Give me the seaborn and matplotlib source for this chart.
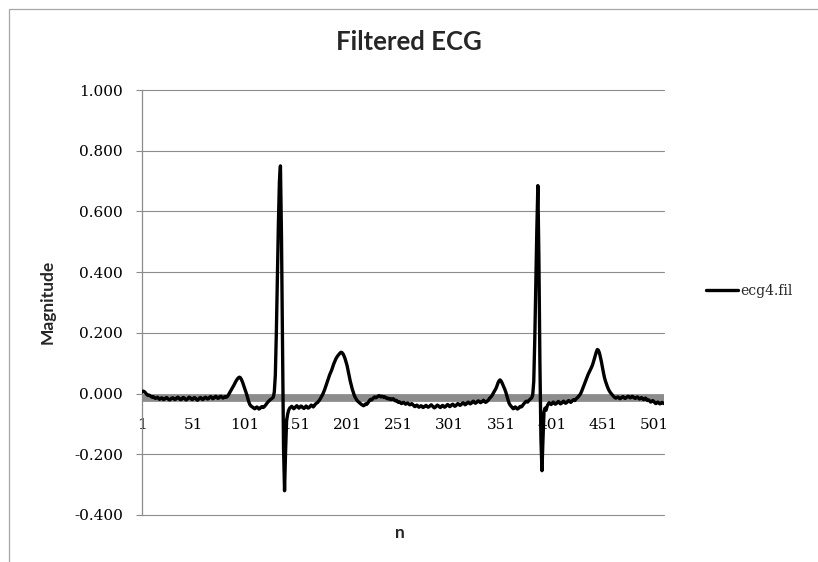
import matplotlib
matplotlib.use("Agg")
import matplotlib.pyplot as plt
import pandas as pd
import seaborn as sns
from matplotlib.patches import Rectangle

# ---- chart text -------------------------------------------------------------
title_text = "Filtered ECG"
series_name = "ecg4.fil"
x_title = "n"
y_title = "Magnitude"

# ---- tick positions / labels ------------------------------------------------
x_tick_values = [1, 51, 101, 151, 201, 251, 301, 351, 401, 451, 501]
y_tick_values = [-0.4, -0.2, 0.0, 0.2, 0.4, 0.6, 0.8, 1.0]
y_tick_labels = ["-0.400", "-0.200", "0.000", "0.200", "0.400", "0.600", "0.800", "1.000"]

# ---- filtered ECG samples (n = 1 .. 510) ------------------------------------
ecg4_fil = [
    # 1-50
    0.005, 0.008, 0.007, 0.004, 0.000, -0.004, -0.006, -0.005, -0.008, -0.010,
    -0.012, -0.010, -0.013, -0.016, -0.014, -0.012, -0.015, -0.019, -0.017, -0.014,
    -0.016, -0.020, -0.018, -0.015, -0.013, -0.016, -0.019, -0.021, -0.018, -0.015,
    -0.014, -0.017, -0.020, -0.018, -0.014, -0.012, -0.015, -0.019, -0.020, -0.017,
    -0.013, -0.014, -0.018, -0.021, -0.019, -0.015, -0.012, -0.014, -0.018, -0.020,
    # 51-100
    -0.017, -0.013, -0.015, -0.019, -0.022, -0.019, -0.015, -0.013, -0.016, -0.020,
    -0.018, -0.014, -0.012, -0.015, -0.018, -0.016, -0.012, -0.010, -0.013, -0.017,
    -0.015, -0.011, -0.009, -0.012, -0.016, -0.014, -0.010, -0.009, -0.012, -0.015,
    -0.012, -0.010, -0.012, -0.011, -0.006, 0.000, 0.006, 0.012, 0.018, 0.024,
    0.030, 0.037, 0.043, 0.048, 0.052, 0.054, 0.052, 0.046, 0.038, 0.028,
    # 101-150
    0.018, 0.008, -0.002, -0.014, -0.026, -0.035, -0.040, -0.043, -0.045, -0.048,
    -0.050, -0.047, -0.044, -0.047, -0.051, -0.049, -0.045, -0.043, -0.046, -0.044,
    -0.040, -0.036, -0.031, -0.027, -0.024, -0.020, -0.018, -0.015, -0.012, 0.005,
    0.060, 0.200, 0.380, 0.560, 0.700, 0.750, 0.520, 0.150, -0.180, -0.320,
    -0.190, -0.090, -0.068, -0.055, -0.048, -0.045, -0.042, -0.046, -0.050, -0.047,
    # 151-200
    -0.043, -0.040, -0.044, -0.048, -0.045, -0.041, -0.043, -0.047, -0.049, -0.045,
    -0.041, -0.044, -0.048, -0.046, -0.042, -0.038, -0.041, -0.044, -0.040, -0.035,
    -0.032, -0.030, -0.026, -0.022, -0.016, -0.010, -0.004, 0.004, 0.012, 0.022,
    0.032, 0.042, 0.052, 0.062, 0.070, 0.078, 0.088, 0.098, 0.106, 0.114,
    0.120, 0.125, 0.129, 0.133, 0.136, 0.135, 0.131, 0.124, 0.115, 0.104,
    # 201-250
    0.092, 0.075, 0.058, 0.042, 0.028, 0.015, 0.004, -0.006, -0.013, -0.019,
    -0.024, -0.027, -0.030, -0.033, -0.036, -0.038, -0.040, -0.038, -0.034, -0.036,
    -0.032, -0.027, -0.022, -0.019, -0.021, -0.017, -0.013, -0.011, -0.014, -0.012,
    -0.009, -0.007, -0.008, -0.011, -0.009, -0.010, -0.013, -0.011, -0.014, -0.017,
    -0.015, -0.018, -0.017, -0.020, -0.018, -0.017, -0.021, -0.024, -0.022, -0.026,
    # 251-300
    -0.029, -0.027, -0.030, -0.033, -0.031, -0.029, -0.032, -0.035, -0.033, -0.031,
    -0.034, -0.037, -0.036, -0.033, -0.036, -0.040, -0.043, -0.041, -0.038, -0.041,
    -0.045, -0.043, -0.040, -0.042, -0.046, -0.044, -0.041, -0.039, -0.042, -0.045,
    -0.043, -0.040, -0.037, -0.040, -0.044, -0.047, -0.045, -0.041, -0.038, -0.040,
    -0.044, -0.046, -0.042, -0.039, -0.041, -0.045, -0.043, -0.039, -0.036, -0.039,
    # 301-350
    -0.043, -0.041, -0.037, -0.035, -0.038, -0.042, -0.040, -0.036, -0.033, -0.035,
    -0.039, -0.037, -0.033, -0.030, -0.033, -0.037, -0.035, -0.031, -0.028, -0.031,
    -0.034, -0.032, -0.028, -0.025, -0.028, -0.032, -0.030, -0.026, -0.024, -0.027,
    -0.030, -0.028, -0.025, -0.022, -0.026, -0.029, -0.027, -0.024, -0.020, -0.015,
    -0.012, -0.008, -0.002, 0.004, 0.010, 0.016, 0.024, 0.034, 0.041, 0.045,
    # 351-400
    0.042, 0.036, 0.028, 0.020, 0.012, 0.002, -0.010, -0.022, -0.032, -0.038,
    -0.042, -0.046, -0.050, -0.048, -0.044, -0.047, -0.051, -0.049, -0.045, -0.042,
    -0.044, -0.040, -0.035, -0.031, -0.027, -0.025, -0.028, -0.024, -0.020, -0.017,
    -0.014, -0.004, 0.040, 0.180, 0.360, 0.540, 0.685, 0.450, 0.100, -0.150,
    -0.254, -0.150, -0.060, -0.048, -0.055, -0.042, -0.035, -0.030, -0.033, -0.036,
    # 401-450
    -0.032, -0.028, -0.031, -0.035, -0.033, -0.029, -0.026, -0.030, -0.034, -0.032,
    -0.028, -0.025, -0.028, -0.032, -0.030, -0.026, -0.023, -0.025, -0.029, -0.026,
    -0.022, -0.020, -0.023, -0.019, -0.015, -0.012, -0.008, -0.004, 0.002, 0.010,
    0.019, 0.028, 0.037, 0.046, 0.055, 0.063, 0.070, 0.077, 0.084, 0.092,
    0.102, 0.114, 0.126, 0.137, 0.145, 0.143, 0.134, 0.120, 0.104, 0.086,
    # 451-510
    0.068, 0.052, 0.040, 0.030, 0.021, 0.013, 0.007, 0.002, -0.002, -0.006,
    -0.010, -0.013, -0.015, -0.013, -0.011, -0.014, -0.017, -0.015, -0.012, -0.010,
    -0.013, -0.016, -0.014, -0.011, -0.009, -0.011, -0.014, -0.012, -0.009, -0.011,
    -0.014, -0.016, -0.013, -0.011, -0.014, -0.018, -0.016, -0.013, -0.016, -0.020,
    -0.018, -0.015, -0.019, -0.023, -0.021, -0.024, -0.028, -0.026, -0.023, -0.026,
    -0.030, -0.033, -0.031, -0.028, -0.031, -0.034, -0.032, -0.029, -0.031, -0.033,
]
sample_n = list(range(1, len(ecg4_fil) + 1))

df = pd.DataFrame({"n": sample_n, "magnitude": ecg4_fil})

# ---- styling ----------------------------------------------------------------
sns.set_theme(style="white")
plt.rcParams["font.family"] = ["DejaVu Serif"]

W, H = 818, 562
fig = plt.figure(figsize=(W / 100, H / 100), dpi=100)
fig.patch.set_facecolor("white")

# outer chart frame
fig.add_artist(Rectangle((9 / W, -0.05), 1.2, 1 - 9 / H + 0.05,
                         transform=fig.transFigure, fill=False,
                         edgecolor="#a6a6a6", linewidth=0.9))

ax = fig.add_axes([142 / W, 1 - 515 / H, (664 - 142) / W, (515 - 90) / H])
ax.set_facecolor("white")

grid_col = "#8c8c8c"
for yv in y_tick_values:
    if yv != 0.0:
        ax.axhline(yv, color=grid_col, linewidth=0.8, zorder=1, clip_on=False)

sns.lineplot(data=df, x="n", y="magnitude", ax=ax, color="black",
             linewidth=2.4, estimator=None, label=series_name, zorder=4)

ax.set_xlim(1, len(ecg4_fil))
ax.set_ylim(-0.4, 1.0)

# thick grey category axis running along zero
ax.spines["bottom"].set_position(("data", -0.013))
ax.spines["bottom"].set_color("#8c8c8c")
ax.spines["bottom"].set_linewidth(5.6)
ax.spines["bottom"].set_capstyle("butt")
ax.spines["bottom"].set_zorder(2)
ax.spines["left"].set_color(grid_col)
ax.spines["left"].set_linewidth(0.9)
ax.spines["top"].set_visible(False)
ax.spines["right"].set_visible(False)

ax.set_xticks(x_tick_values)
ax.set_xticklabels([str(v) for v in x_tick_values])
ax.set_yticks(y_tick_values)
ax.set_yticklabels(y_tick_labels)
ax.tick_params(axis="x", length=0, pad=15, labelsize=11, colors="black")
ax.tick_params(axis="y", length=4.3, width=0.8, color=grid_col, pad=9.4,
               labelsize=11, labelcolor="black", direction="out", left=True)

ax.set_xlabel("")
ax.set_ylabel("")
fig.text(400 / W, 1 - 533 / H, x_title, ha="center", va="center",
         family="Lato", weight="bold", fontsize=12.5)
fig.text(48 / W, 1 - 302 / H, y_title, ha="center", va="center", rotation=90,
         family="Lato", weight="bold", fontsize=12.5)
fig.text(409 / W, 1 - 42 / H, title_text, ha="center", va="center",
         family="Lato", weight="bold", fontsize=18.5)

leg = ax.legend(loc="center left", bbox_to_anchor=(706 / W, 1 - 291 / H),
                bbox_transform=fig.transFigure, frameon=False, fontsize=10,
                handlelength=2.3, handletextpad=0.15, borderpad=0,
                borderaxespad=0)
for line in leg.get_lines():
    line.set_linewidth(2.4)

fig.savefig("out.png", dpi=100, facecolor="white")
